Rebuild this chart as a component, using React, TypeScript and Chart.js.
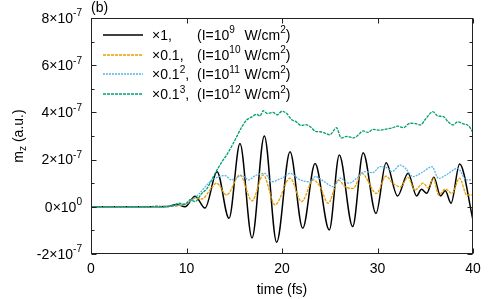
import { useEffect, useRef } from "react";
import { Chart, registerables } from "chart.js";

Chart.register(...registerables);

// values in units of 1e-7 a.u.
const UNIT = 1e-7;

const xTicks = [0, 10, 20, 30, 40];
const yTickMantissa = ["-2", "0", "2", "4", "6", "8"];
const yTickValues = [-2, 0, 2, 4, 6, 8];
const yTickExp = ["-7", "0", "-7", "-7", "-7", "-7"];
const yMinorTicks = [-1, 1, 3, 5, 7];

const blackT = [0, 6, 8, 9.0, 9.84, 10.9, 11.94, 13.2, 14.45, 15.6, 16.86, 18.15, 19.44, 20.84, 22.17, 23.46, 24.95, 26.0, 27.4, 28.5, 29.84, 30.9, 32.1, 33.2, 34.1, 34.6, 35.15, 35.9, 36.6, 37.1, 37.7, 38.6, 40];
const blackV = [0, 0, 0.01, 0.1, 0.0, 0.45, -0.05, 1.49, -0.49, 2.68, -1.32, 3.0, -1.5, 2.33, -0.91, 1.84, -0.98, 2.19, -0.84, 2.29, -0.28, 1.87, 0.46, 1.42, 0.46, 0.74, 0.57, 1.25, 0.46, 0.68, 0.15, 1.81, -0.56];

const orangeT = [0, 6, 8, 9.2, 10.0, 10.9, 11.6, 12.46, 13.16, 14.2, 15.6, 16.86, 18.04, 19.27, 20.84, 22.06, 23.28, 23.98, 24.85, 25.9, 26.6, 27.47, 28.35, 29.9, 30.9, 31.6, 32.4, 33.2, 33.9, 34.8, 35.3, 35.85, 36.4, 37.1, 37.8, 38.6, 39.35, 40];
const orangeV = [0, 0, 0.02, 0.05, 0.12, 0.38, 0.33, 0.71, 1.0, 0.5, 1.35, 0.25, 1.35, 0.08, 1.21, 0.22, 1.14, 0.85, 0.15, 1.14, 0.85, 0.78, 1.42, 0.57, 1.3, 1.0, 0.85, 1.25, 0.71, 1.0, 0.8, 1.21, 0.5, 0.75, 0.57, 1.21, 0.5, 0.5];

const blueT = [0, 6, 8, 9.0, 10.0, 10.6, 11.2, 12.3, 13.0, 14.05, 14.7, 15.8, 16.5, 17.2, 18.2, 18.9, 19.6, 20.3, 20.8, 21.9, 22.9, 23.5, 24.3, 25.4, 26.1, 27.0, 27.8, 28.7, 29.5, 30.3, 31.0, 31.5, 32.4, 33.0, 33.7, 34.8, 35.7, 36.4, 37.2, 38.4, 39.3, 40];
const blueV = [0, 0, 0.02, 0.06, 0.15, 0.3, 0.5, 1.0, 1.21, 1.32, 1.14, 1.32, 1.14, 1.32, 1.42, 1.06, 1.15, 1.28, 1.42, 1.14, 1.06, 1.28, 1.1, 0.85, 1.21, 1.0, 1.2, 1.49, 1.45, 1.7, 1.65, 1.49, 1.77, 1.6, 1.28, 1.49, 1.7, 1.2, 1.35, 1.63, 1.14, 1.14];

const greenT = [0, 6, 7, 7.5, 8.5, 9.3, 9.8, 10.4, 10.9, 11.6, 12.1, 12.46, 13.0, 13.7, 14.2, 14.9, 15.8, 16.3, 16.8, 17.35, 17.7, 18.04, 18.5, 19.06, 19.5, 20.0, 20.5, 21.0, 21.5, 22.0, 22.5, 23.0, 23.5, 24.0, 24.5, 25.0, 25.7, 26.2, 26.8, 27.5, 28.0, 28.5, 29.0, 29.5, 30.3, 31.0, 31.6, 32.1, 32.7, 33.4, 34.0, 34.5, 35.0, 35.8, 36.3, 36.9, 37.4, 37.9, 38.4, 39.0, 39.5, 40];
const greenV = [0, 0, 0.03, 0, 0.04, 0.15, 0.1, 0.3, 0.22, 0.57, 0.75, 1.0, 1.42, 1.9, 2.19, 2.69, 3.39, 3.68, 3.8, 3.92, 3.85, 4.07, 3.95, 4.0, 3.9, 4.05, 3.95, 3.7, 3.6, 3.45, 3.48, 3.38, 3.2, 3.18, 3.12, 3.05, 3.35, 2.92, 2.98, 2.92, 3.05, 3.22, 3.15, 3.28, 3.25, 3.3, 3.35, 3.42, 3.35, 3.54, 3.52, 3.47, 3.7, 4.03, 3.85, 3.82, 3.6, 3.47, 3.6, 3.51, 3.45, 3.15];

const legendFactor = ["1", "0.1", "0.1", "0.1"];
const legendFactorExp = ["", "", "2", "3"];
const legendIntensityExp = ["9", "10", "11", "12"];

const seriesColors = ["#000000", "#E69F00", "#56B4E9", "#009E73"];
const seriesDash = [[], [3, 1], [2, 1], [3, 1]];
const seriesWidth = [1.5, 1.3, 1.3, 1.3];

const FONT = "'Liberation Sans', Arial, Helvetica, sans-serif";

type Part = { t: string; sup?: boolean; sub?: boolean };

function partsWidth(ctx: CanvasRenderingContext2D, parts: Part[], size: number) {
  let w = 0;
  for (const p of parts) {
    const s = p.sup || p.sub ? size * 0.72 : size;
    ctx.font = `${s}px ${FONT}`;
    w += ctx.measureText(p.t).width;
  }
  return w;
}

function drawParts(ctx: CanvasRenderingContext2D, parts: Part[], x: number, y: number, size: number) {
  let cx = x;
  ctx.textBaseline = "middle";
  ctx.textAlign = "left";
  for (const p of parts) {
    const s = p.sup || p.sub ? size * 0.72 : size;
    ctx.font = `${s}px ${FONT}`;
    const dy = p.sup ? -size * 0.38 : p.sub ? size * 0.28 : 0;
    ctx.fillText(p.t, cx, y + dy);
    cx += ctx.measureText(p.t).width;
  }
  return cx;
}

const toPoints = (t: number[], v: number[]) => t.map((x, i) => ({ x, y: v[i] * UNIT }));

const framePlugin = {
  id: "frame",
  afterDraw(chart: any) {
    const ctx: CanvasRenderingContext2D = chart.ctx;
    const { left, right, top, bottom } = chart.chartArea;
    const xs = chart.scales.x;
    const ys = chart.scales.y;
    const size = 14;
    ctx.save();
    ctx.fillStyle = "#000";
    ctx.strokeStyle = "#222";
    ctx.lineWidth = 1;
    // frame
    ctx.strokeRect(Math.round(left) + 0.5, Math.round(top) + 0.5, Math.round(right - left) - 1, Math.round(bottom - top) - 1);
    ctx.beginPath();
    const L = Math.round(left) + 0.5;
    const R = Math.round(right) - 0.5;
    const T = Math.round(top) + 0.5;
    const B = Math.round(bottom) - 0.5;
    // y ticks
    yTickValues.forEach((v) => {
      const py = Math.round(ys.getPixelForValue(v * UNIT)) + 0.5;
      ctx.moveTo(L, py); ctx.lineTo(L + 5, py);
      ctx.moveTo(R, py); ctx.lineTo(R - 5, py);
    });
    yMinorTicks.forEach((v) => {
      const py = Math.round(ys.getPixelForValue(v * UNIT)) + 0.5;
      ctx.moveTo(L, py); ctx.lineTo(L + 3, py);
      ctx.moveTo(R, py); ctx.lineTo(R - 3, py);
    });
    xTicks.forEach((v) => {
      const px = Math.round(xs.getPixelForValue(v)) + 0.5;
      ctx.moveTo(px, B); ctx.lineTo(px, B - 5);
      ctx.moveTo(px, T); ctx.lineTo(px, T + 5);
    });
    ctx.stroke();

    // y tick labels
    yTickValues.forEach((v, i) => {
      const py = ys.getPixelForValue(v * UNIT);
      const parts: Part[] = [{ t: yTickMantissa[i] + "×10" }, { t: yTickExp[i], sup: true }];
      const w = partsWidth(ctx, parts, size);
      drawParts(ctx, parts, 82 - w, py + 1, size);
    });
    // x tick labels
    ctx.font = `${size}px ${FONT}`;
    ctx.textAlign = "center";
    ctx.textBaseline = "middle";
    xTicks.forEach((v) => {
      ctx.fillText(String(v), xs.getPixelForValue(v), 269);
    });
    // x title
    ctx.fillText("time (fs)", (left + right) / 2, 290);
    // (b)
    ctx.textAlign = "left";
    ctx.fillText("(b)", left, 8);
    // y title
    ctx.save();
    ctx.translate(19, (top + bottom) / 2);
    ctx.rotate(-Math.PI / 2);
    const yt: Part[] = [{ t: "m" }, { t: "z", sub: true }, { t: " (a.u.)" }];
    const yw = partsWidth(ctx, yt, size);
    drawParts(ctx, yt, -yw / 2, 0, size);
    ctx.restore();

    // legend
    const lx0 = 103, lx1 = 143, tx = 152, ix = 197;
    ctx.font = `${size * 0.72}px ${FONT}`;
    let maxSup = 0;
    legendIntensityExp.forEach((e) => { maxSup = Math.max(maxSup, ctx.measureText(e).width); });
    ctx.font = `${size}px ${FONT}`;
    const baseW = ctx.measureText("(I=10").width;
    for (let i = 0; i < legendFactor.length; i++) {
      const y = 35 + i * 19.7;
      ctx.save();
      ctx.strokeStyle = seriesColors[i];
      ctx.lineWidth = seriesWidth[i];
      ctx.setLineDash(seriesDash[i]);
      ctx.beginPath();
      ctx.moveTo(lx0, Math.round(y));
      ctx.lineTo(lx1, Math.round(y));
      ctx.stroke();
      ctx.restore();
      const fp: Part[] = [{ t: "×" + legendFactor[i] }];
      if (legendFactorExp[i]) fp.push({ t: legendFactorExp[i], sup: true });
      fp.push({ t: "," });
      drawParts(ctx, fp, tx, y + 1, size);
      drawParts(ctx, [{ t: "(I=10" }, { t: legendIntensityExp[i], sup: true }], ix, y + 1, size);
      drawParts(ctx, [{ t: " W/cm" }, { t: "2", sup: true }, { t: ")" }], ix + baseW + maxSup, y + 1, size);
    }
    ctx.restore();
  },
};

export default function App() {
  const ref = useRef<HTMLCanvasElement | null>(null);
  useEffect(() => {
    document.body.style.margin = "0";
    if (!ref.current) return;
    const mk = (t: number[], v: number[], i: number, order: number) => ({
      data: toPoints(t, v),
      borderColor: seriesColors[i],
      borderWidth: seriesWidth[i],
      borderDash: seriesDash[i],
      pointRadius: 0,
      cubicInterpolationMode: "monotone" as const,
      fill: false,
      order,
    });
    const chart = new Chart(ref.current, {
      type: "line",
      data: {
        datasets: [
          mk(blackT, blackV, 0, 4),
          mk(orangeT, orangeV, 1, 3),
          mk(blueT, blueV, 2, 2),
          mk(greenT, greenV, 3, 1),
        ],
      },
      options: {
        responsive: false,
        animation: false,
        devicePixelRatio: 1,
        layout: { padding: { top: 18, right: 25, left: 0, bottom: 0 } },
        plugins: { legend: { display: false }, tooltip: { enabled: false } },
        scales: {
          x: {
            type: "linear",
            min: 0,
            max: 40,
            grid: { display: false },
            border: { display: false },
            ticks: { display: false },
            afterFit: (s: any) => { s.height = 45; },
          },
          y: {
            type: "linear",
            min: -2 * UNIT,
            max: 8 * UNIT,
            grid: { display: false },
            border: { display: false },
            ticks: { display: false },
            afterFit: (s: any) => { s.width = 91; },
          },
        },
      },
      plugins: [framePlugin],
    } as any);
    return () => chart.destroy();
  }, []);
  return (
    <div style={{ width: 498, height: 299 }}>
      <canvas ref={ref} width={498} height={299} />
    </div>
  );
}
